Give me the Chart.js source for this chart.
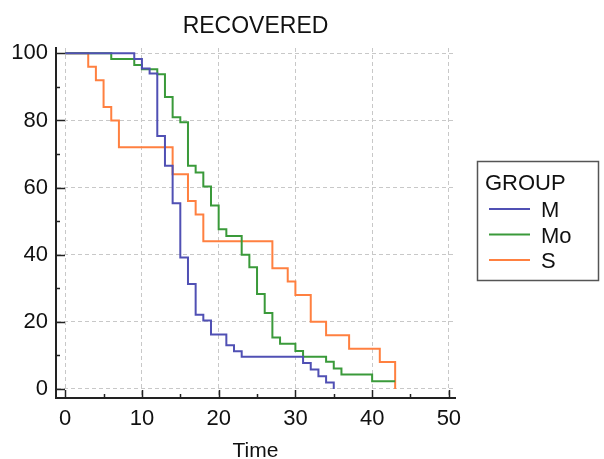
<!DOCTYPE html>
<html>
<head>
<meta charset="utf-8">
<script src="https://cdn.jsdelivr.net/npm/chart.js@4.4.0/dist/chart.umd.min.js"></script>
<style>
  html, body { margin: 0; padding: 0; background: #fff; }
  #wrap { width: 604px; height: 459px; }
</style>
</head>
<body>
<div id="wrap"><canvas id="recovered_chart" width="604" height="459"></canvas></div>
<script>
// survival steps (time, % not yet recovered)
var groups = ["M", "Mo", "S"];
var groupColors = ["#5050b4", "#3a9a3a", "#ff8040"];

var timeM = [0, 9, 10, 11, 12, 13, 14, 15, 16, 17, 18, 19, 21, 22, 23, 31, 32, 33, 34, 35];
var survM = [100, 98.3, 95.5, 94, 75.4, 66.5, 55.3, 39.2, 31.3, 22.1, 20.4, 16.2, 13, 11.2, 9.6, 7.7, 5.8, 3.8, 1.9, 0];

var timeMo = [0, 6, 9, 10, 12, 13, 14, 15, 16, 17, 18, 19, 20, 21, 23, 24, 25, 26, 27, 28, 30, 31, 34, 35, 36, 40, 43];
var survMo = [100, 98.3, 96.5, 95.3, 93.8, 87, 81, 79.5, 66.5, 64.5, 60.3, 54.7, 47.6, 45.6, 40, 36.3, 28.3, 22.6, 15.3, 13.5, 11.3, 9.6, 8.1, 6.1, 4.3, 2.3, 2.3];

var timeS = [0, 3, 4, 5, 6, 7, 14, 16, 17, 18, 27, 29, 30, 32, 34, 37, 41, 43];
var survS = [100, 96, 92, 84, 80, 72, 64, 56, 52, 44, 36, 32, 28, 20, 16, 12, 8, 0];

var xMajor = [0, 10, 20, 30, 40, 50];
var xMinor = [5, 15, 25, 35, 45];
var yMajor = [0, 20, 40, 60, 80, 100];
var yMinor = [10, 30, 50, 70, 90];

function toPoints(times, surv) {
    return times.map(function (t, i) { return { x: t, y: surv[i] }; });
}

var series = [toPoints(timeM, survM), toPoints(timeMo, survMo), toPoints(timeS, survS)];

var FONT = "'Liberation Sans', Arial, sans-serif";

// inward tick marks, title, x-axis title and the boxed legend
var decorPlugin = {
    id: 'decor',
    afterDraw: function (chart) {
        var ctx = chart.ctx;
        var xs = chart.scales.x, ys = chart.scales.y;
        var area = chart.chartArea;
        ctx.save();
        ctx.strokeStyle = '#222';
        ctx.lineWidth = 1.5;
        function tickX(v, len) {
            var px = Math.round(xs.getPixelForValue(v)) + 0.5;
            ctx.beginPath(); ctx.moveTo(px, area.bottom); ctx.lineTo(px, area.bottom - len); ctx.stroke();
        }
        function tickY(v, len) {
            var py = Math.round(ys.getPixelForValue(v)) + 0.5;
            ctx.beginPath(); ctx.moveTo(area.left, py); ctx.lineTo(area.left + len, py); ctx.stroke();
        }
        xMajor.forEach(function (v) { tickX(v, 8); });
        xMinor.forEach(function (v) { tickX(v, 4); });
        yMajor.forEach(function (v) { tickY(v, 9); });
        yMinor.forEach(function (v) { tickY(v, 4); });

        ctx.fillStyle = '#111';
        ctx.textBaseline = 'alphabetic';
        ctx.textAlign = 'center';
        ctx.font = '23px ' + FONT;
        ctx.fillText('RECOVERED', (area.left + area.right) / 2, 33);
        ctx.font = '21px ' + FONT;
        ctx.fillText('Time', (area.left + area.right) / 2, 457);

        // legend box
        var bx = 477, by = 161, bw = 121, bh = 119;
        ctx.strokeStyle = '#555';
        ctx.lineWidth = 1.5;
        ctx.strokeRect(bx + 0.5, by + 0.5, bw, bh);
        ctx.textAlign = 'left';
        ctx.font = '22px ' + FONT;
        ctx.fillText('GROUP', 485, 190);
        chart.data.datasets.forEach(function (ds, i) {
            var ly = 209 + i * 25.5;
            ctx.strokeStyle = ds.borderColor;
            ctx.lineWidth = 2;
            ctx.beginPath(); ctx.moveTo(489, ly); ctx.lineTo(530, ly); ctx.stroke();
            ctx.fillStyle = '#111';
            ctx.fillText(ds.label, 541, ly + 8);
        });
        ctx.restore();
    }
};

var ctx = document.getElementById('recovered_chart');
var kmChart = new Chart(ctx, {
    type: 'line',
    data: {
        datasets: groups.map(function (g, i) {
            return {
                label: g,
                data: series[i],
                borderColor: groupColors[i],
                backgroundColor: groupColors[i],
                borderWidth: 2,
                stepped: 'before',
                pointRadius: 0,
                fill: false
            };
        })
    },
    options: {
        responsive: false,
        animation: false,
        layout: { padding: { top: 48, right: 149, left: 0, bottom: 0 } },
        plugins: {
            legend: { display: false },
            title: { display: false },
            tooltip: { enabled: false }
        },
        scales: {
            x: {
                type: 'linear',
                min: -1.2,
                max: 50.8,
                afterBuildTicks: function (scale) {
                    scale.ticks = xMajor.map(function (v) { return { value: v }; });
                },
                afterFit: function (scale) { scale.height = 61; },
                grid: { color: '#c8c8c8', lineWidth: 1, drawTicks: false },
                border: { display: true, color: '#222', width: 2, dash: [4, 3] },
                ticks: { color: '#111', font: { family: FONT, size: 22 }, padding: 8, maxRotation: 0 }
            },
            y: {
                type: 'linear',
                min: -2.7,
                max: 101.6,
                afterBuildTicks: function (scale) {
                    scale.ticks = yMajor.map(function (v) { return { value: v }; });
                },
                afterFit: function (scale) { scale.width = 56; },
                grid: { color: '#c8c8c8', lineWidth: 1, drawTicks: false },
                border: { display: true, color: '#222', width: 2, dash: [4, 3] },
                ticks: { color: '#111', font: { family: FONT, size: 22 }, padding: 8 }
            }
        }
    },
    plugins: [decorPlugin]
});
</script>
</body>
</html>
